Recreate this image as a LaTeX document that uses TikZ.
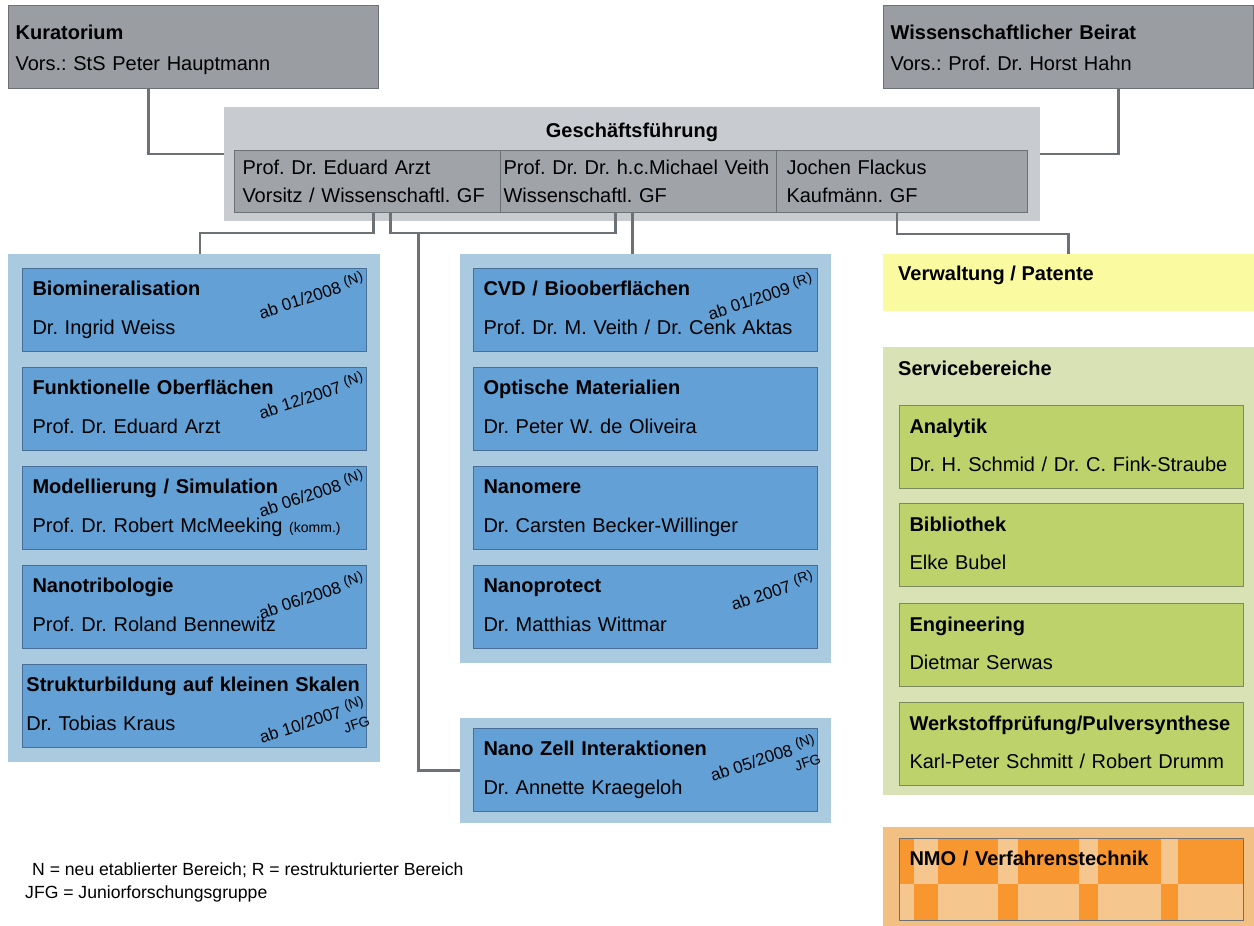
\documentclass[tikz,border=0pt]{standalone}
\usepackage{fontspec}
\setmainfont{Liberation Sans}
\usepackage{tikz}
\frenchspacing

\definecolor{grayfill}{RGB}{154,158,163}
\definecolor{grayline}{RGB}{108,113,118}
\definecolor{gfback}{RGB}{200,204,208}
\definecolor{gfcolumn}{RGB}{160,164,169}
\definecolor{bluepanel}{RGB}{170,202,224}
\definecolor{bluebox}{RGB}{98,160,214}
\definecolor{blueline}{RGB}{72,110,150}
\definecolor{yellowbox}{RGB}{250,250,160}
\definecolor{greenpanel}{RGB}{217,226,180}
\definecolor{greenbox}{RGB}{190,210,108}
\definecolor{greenline}{RGB}{122,138,92}
\definecolor{orangepanel}{RGB}{241,192,130}
\definecolor{orangebox}{RGB}{248,150,48}
\definecolor{orangelight}{RGB}{245,198,142}

\begin{document}
\begin{tikzpicture}[x=1pt, y=-1pt,
    topbox/.style={draw=grayline, fill=grayfill, line width=1.2pt, anchor=north west,
        inner xsep=7pt, inner ysep=0pt, align=left, text width=356pt,
        text height=34pt, text depth=49pt, font=\fontsize{20}{31}\selectfont},
    gfbox/.style={draw=grayline, fill=gfcolumn, line width=1pt, anchor=north west,
        inner xsep=8pt, inner ysep=0pt, align=left,
        text height=24pt, text depth=38pt, font=\fontsize{20}{28}\selectfont},
    unit/.style={draw=blueline, fill=bluebox, line width=1pt, anchor=north west,
        inner xsep=10pt, inner ysep=0pt, align=left, text width=324pt,
        text height=27pt, text depth=56pt, font=\fontsize{20}{39}\selectfont},
    svc/.style={unit, draw=greenline, fill=greenbox, text height=28pt, text depth=55pt,
        font=\fontsize{20}{38}\selectfont},
    panel/.style={anchor=north west, inner sep=0pt, outer sep=0pt},
    head/.style={anchor=west, inner sep=0pt, font=\fontsize{20}{24}\selectfont\bfseries},
    stamp/.style={rotate=18, inner sep=0pt, align=right, font=\fontsize{17}{16}\selectfont},
    conn/.style={draw=grayline, line width=2.5pt}]
\useasboundingbox (0,0) rectangle (1254,926);

% Aufsichtsgremien
\node[topbox] (kur) at (8,5) {\textbf{Kuratorium}\\Vors.: StS Peter Hauptmann};
\node[topbox] (wbr) at (883,5) {\textbf{Wissenschaftlicher Beirat}\\Vors.: Prof. Dr. Horst Hahn};

% Geschaeftsfuehrung
\node[panel, fill=gfback, minimum width=816pt, minimum height=114pt] (gf) at (224,107) {};
\node[font=\fontsize{20}{24}\selectfont\bfseries, inner sep=0pt] (gft) at ([yshift=-25pt]gf.north) {Geschäftsführung};
\node[gfbox, text width=250pt] (gfa) at (234,150) {Prof. Dr. Eduard Arzt\\Vorsitz / Wissenschaftl. GF};
\node[gfbox, inner xsep=3pt, text width=270pt] (gfb) at (500,150) {Prof. Dr. Dr. h.c.Michael Veith\\Wissenschaftl. GF};
\node[gfbox, inner xsep=10pt, text width=231pt] (gfc) at (776,150) {Jochen Flackus\\Kaufmänn. GF};

% Programmbereiche links
\node[panel, fill=bluepanel, minimum width=372pt, minimum height=508pt] (lp) at (8,254) {};
\node[unit] (l1) at (22,268) {\textbf{Biomineralisation}\\Dr. Ingrid Weiss};
\node[unit] (l2) at (22,367) {\textbf{Funktionelle Oberflächen}\\Prof. Dr. Eduard Arzt};
\node[unit] (l3) at (22,466) {\textbf{Modellierung / Simulation}\\Prof. Dr. Robert McMeeking {\fontsize{14}{14}\selectfont(komm.)}};
\node[unit] (l4) at (22,565) {\textbf{Nanotribologie}\\Prof. Dr. Roland Bennewitz};
\node[unit, inner xsep=4pt, text width=336pt] (l5) at (22,664) {\textbf{Strukturbildung auf kleinen Skalen}\\Dr. Tobias Kraus};
\node[stamp] (l1d) at ([shift={(-56,27)}]l1.north east) {ab 01/2008 \raisebox{5pt}{\fontsize{14}{14}\selectfont(N)}};
\node[stamp] (l2d) at ([shift={(-56,28)}]l2.north east) {ab 12/2007 \raisebox{5pt}{\fontsize{14}{14}\selectfont(N)}};
\node[stamp] (l3d) at ([shift={(-56,27)}]l3.north east) {ab 06/2008 \raisebox{5pt}{\fontsize{14}{14}\selectfont(N)}};
\node[stamp] (l4d) at ([shift={(-56,30)}]l4.north east) {ab 06/2008 \raisebox{5pt}{\fontsize{14}{14}\selectfont(N)}};
\node[stamp] (l5d) at ([shift={(-53,63)}]l5.north east) {ab 10/2007 \raisebox{5pt}{\fontsize{14}{14}\selectfont(N)}\\{\fontsize{14}{14}\selectfont JFG}};

% Programmbereiche Mitte
\node[panel, fill=bluepanel, minimum width=371pt, minimum height=409pt] (mp) at (460,254) {};
\node[unit] (m1) at (473,268) {\textbf{CVD / Biooberflächen}\\Prof. Dr. M. Veith / Dr. Cenk Aktas};
\node[unit] (m2) at (473,367) {\textbf{Optische Materialien}\\Dr. Peter W. de Oliveira};
\node[unit] (m3) at (473,466) {\textbf{Nanomere}\\Dr. Carsten Becker-Willinger};
\node[unit] (m4) at (473,565) {\textbf{Nanoprotect}\\Dr. Matthias Wittmar};
\node[stamp] (m1d) at ([shift={(-58,28)}]m1.north east) {ab 01/2009 \raisebox{5pt}{\fontsize{14}{14}\selectfont(R)}};
\node[stamp] (m4d) at ([shift={(-46,25)}]m4.north east) {ab 2007 \raisebox{5pt}{\fontsize{14}{14}\selectfont(R)}};

% Nano Zell Interaktionen
\node[panel, fill=bluepanel, minimum width=371pt, minimum height=105pt] (nzp) at (460,718) {};
\node[unit] (nz) at (473,728) {\textbf{Nano Zell Interaktionen}\\Dr. Annette Kraegeloh};
\node[stamp] (nzd) at ([shift={(-53,37)}]nz.north east) {ab 05/2008 \raisebox{5pt}{\fontsize{14}{14}\selectfont(N)}\\{\fontsize{14}{14}\selectfont JFG}};

% Verwaltung
\node[panel, fill=yellowbox, minimum width=371pt, minimum height=57pt] (vw) at (883,254) {};
\node[head] (vwt) at ([shift={(15,21)}]vw.north west) {Verwaltung / Patente};

% Servicebereiche
\node[panel, fill=greenpanel, minimum width=371pt, minimum height=448pt] (sb) at (883,347) {};
\node[head] (sbt) at ([shift={(15,21)}]sb.north west) {Servicebereiche};
\node[svc] (s1) at (899,405) {\textbf{Analytik}\\Dr. H. Schmid / Dr. C. Fink-Straube};
\node[svc] (s2) at (899,503) {\textbf{Bibliothek}\\Elke Bubel};
\node[svc] (s3) at (899,603) {\textbf{Engineering}\\Dietmar Serwas};
\node[svc] (s4) at (899,702) {\textbf{Werkstoffprüfung/Pulversynthese}\\Karl-Peter Schmitt / Robert Drumm};

% NMO
\node[panel, fill=orangepanel, minimum width=371pt, minimum height=99pt] (op) at (883,827) {};
\node[unit, draw=grayline, fill=orangelight, text depth=55pt, path picture={
    \foreach \a/\b in {0/14,38/98,118/179,198/261,278/344}
      \fill[orangebox] ([xshift=\a pt]path picture bounding box.north west) rectangle ([xshift=\b pt,yshift=-45pt]path picture bounding box.north west);
    \foreach \a/\b in {14/38,98/118,179/198,261/278}
      \fill[orangebox] ([xshift=\a pt,yshift=-45pt]path picture bounding box.north west) rectangle ([xshift=\b pt,yshift=-82pt]path picture bounding box.north west);
  }] (o1) at (899,838) {\textbf{NMO / Verfahrenstechnik}};

% Legende
\node[anchor=west, inner sep=0pt, font=\fontsize{17.6}{18}\selectfont] (leg1) at (32,870) {N = neu etablierter Bereich; R = restrukturierter Bereich};
\node[anchor=west, inner sep=0pt, font=\fontsize{17.6}{18}\selectfont] (leg2) at (25,894) {JFG = Juniorforschungsgruppe};

% Verbindungen
\draw[conn] ([xshift=-45pt]kur.south) |- ([yshift=10pt]gf.west);
\draw[conn] ([xshift=50pt]wbr.south) |- ([yshift=10pt]gf.east);
\draw[conn] ([xshift=6pt]gfa.south) -- ++(0,20) -| ([xshift=6pt]lp.north);
\draw[conn] ([xshift=23pt]gfa.south) -- ++(0,20) -| ([xshift=-23pt]gfb.south);
\coordinate (tz) at ([xshift=51pt,yshift=-20pt]gfa.south);
\draw[conn] (tz) |- (nzp.west);
\draw[conn] ([xshift=-6pt]gfb.south) -- ([xshift=-6pt]gfb.south |- mp.north);
\draw[conn] ([xshift=-5pt]gfc.south) -- ++(0,21) -| (vw.north);
\end{tikzpicture}
\end{document}
